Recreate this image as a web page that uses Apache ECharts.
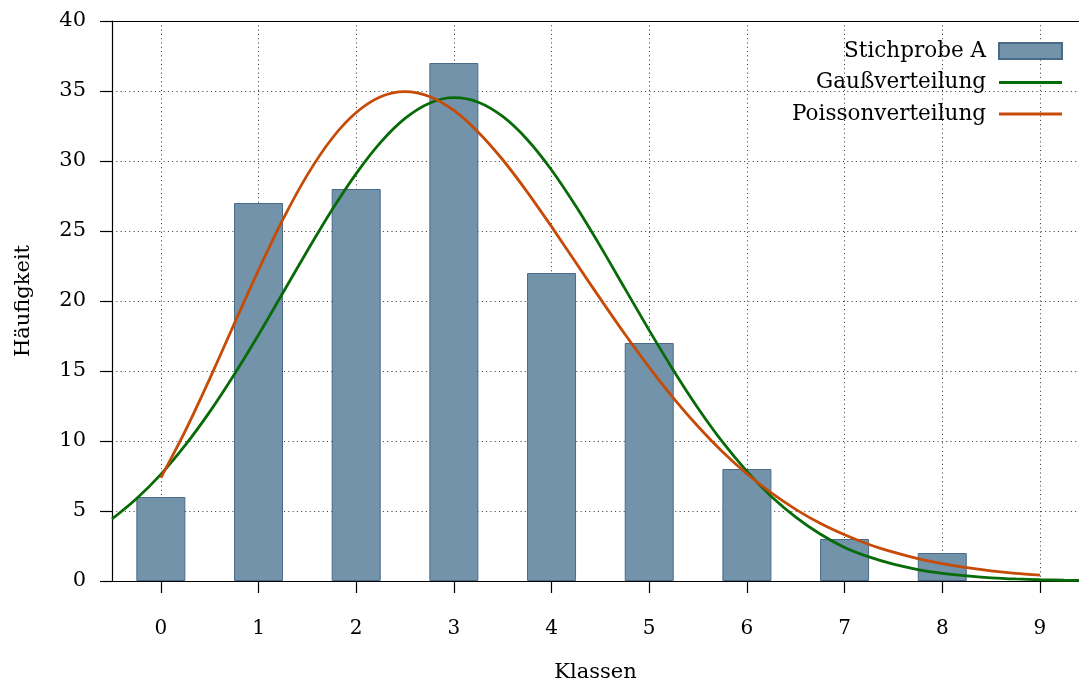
<!DOCTYPE html>
<html>
<head>
<meta charset="utf-8">
<script src="https://cdn.jsdelivr.net/npm/echarts@6/dist/echarts.min.js"></script>
<style>html,body{margin:0;padding:0;background:#fff}#c{width:1079px;height:684px}</style>
</head>
<body>
<div id="c"></div>
<script>
const classes = [0, 1, 2, 3, 4, 5, 6, 7, 8, 9];
const sampleA = [6, 27, 28, 37, 22, 17, 8, 3, 2];
const gaussX = [-0.5, -0.25, 0, 0.25, 0.5, 0.75, 1, 1.25, 1.5, 1.75, 2, 2.25, 2.5, 2.75, 3, 3.25, 3.5, 3.75, 4, 4.25, 4.5, 4.75, 5, 5.25, 5.5, 5.75, 6, 6.25, 6.5, 6.75, 7, 7.25, 7.5, 7.75, 8, 8.25, 8.5, 8.75, 9, 9.25, 9.4];
const gaussY = [4.43, 5.88, 7.62, 9.70, 12.08, 14.73, 17.59, 20.59, 23.59, 26.48, 29.10, 31.33, 33.04, 34.13, 34.52, 34.20, 33.18, 31.54, 29.36, 26.76, 23.90, 20.90, 17.90, 15.02, 12.34, 9.93, 7.83, 6.04, 4.57, 3.36, 2.40, 1.72, 1.20, 0.82, 0.55, 0.36, 0.23, 0.145, 0.09, 0.054, 0.039];
const poissonX = [0, 0.25, 0.5, 0.75, 1, 1.25, 1.5, 1.75, 2, 2.25, 2.5, 2.75, 3, 3.25, 3.5, 3.75, 4, 4.25, 4.5, 4.75, 5, 5.25, 5.5, 5.75, 6, 6.25, 6.5, 6.75, 7, 7.25, 7.5, 7.75, 8, 8.25, 8.5, 8.75, 9];
const poissonY = [7.37, 10.72, 14.44, 18.35, 22.21, 25.83, 29.01, 31.59, 33.46, 34.59, 34.96, 34.61, 33.61, 32.06, 30.09, 27.80, 25.31, 22.73, 20.15, 17.64, 15.26, 13.05, 11.04, 9.24, 7.66, 6.29, 5.12, 4.12, 3.30, 2.61, 2.06, 1.60, 1.24, 0.955, 0.73, 0.552, 0.416];

const FONT = 'DejaVu Serif';
const chart = echarts.init(document.getElementById('c'), null, {renderer: 'canvas'});
const gridLine = {show: true, lineStyle: {color: '#333', width: 1, type: [1, 3.3]}};
const lineIcon = 'path://M0,0H63V3H0Z';

chart.setOption({
  animation: false,
  textStyle: {fontFamily: FONT, color: '#000'},
  grid: {left: 112, right: 0, top: 21, bottom: 103, containLabel: false, outerBoundsMode: 'none'},
  legend: {
    orient: 'vertical', right: 16, top: 40, align: 'right', padding: 0,
    itemWidth: 63, itemHeight: 16, itemGap: 9.5,
    textStyle: {fontFamily: FONT, fontSize: 21.5, color: '#000', padding: [0, 8, 0, 0]},
    data: [
      {name: 'Stichprobe A', icon: 'rect'},
      {name: 'Gaußverteilung', icon: lineIcon},
      {name: 'Poissonverteilung', icon: lineIcon}
    ]
  },
  xAxis: [{
    type: 'value', min: -0.5, max: 9.4,
    name: 'Klassen', nameLocation: 'middle', nameGap: 81,
    nameTextStyle: {fontFamily: FONT, fontSize: 21, color: '#000'},
    axisLine: {show: true, onZero: false, lineStyle: {color: '#000', width: 1.2}},
    axisTick: {show: true, inside: false, length: 12, customValues: classes, lineStyle: {color: '#000', width: 1.2}},
    axisLabel: {customValues: classes, margin: 38, fontFamily: FONT, fontSize: 20, color: '#000'},
    splitLine: gridLine
  }, {
    type: 'value', min: -0.5, max: 9.4, position: 'top',
    axisLine: {show: true, onZero: false, lineStyle: {color: '#000', width: 1.2}},
    axisTick: {show: false}, axisLabel: {show: false}, splitLine: {show: false}
  }],
  yAxis: {
    type: 'value', min: 0, max: 40, interval: 5,
    name: 'Häufigkeit', nameLocation: 'middle', nameGap: 78, nameRotate: 90,
    nameTextStyle: {fontFamily: FONT, fontSize: 21, color: '#000'},
    axisLine: {show: true, onZero: false, lineStyle: {color: '#000', width: 1.2}},
    axisTick: {show: true, inside: false, length: 12, lineStyle: {color: '#000', width: 1.2}},
    axisLabel: {margin: 26, fontFamily: FONT, fontSize: 21, color: '#000'},
    splitLine: gridLine
  },
  series: [{
    name: 'Stichprobe A', type: 'bar', barWidth: 49,
    itemStyle: {color: '#7393ab', borderColor: '#4a6b87', borderWidth: 1},
    data: sampleA.map((v, i) => [classes[i], v]), z: 2
  }, {
    name: 'Gaußverteilung', type: 'line', smooth: 0.3, symbol: 'none',
    itemStyle: {color: '#076b07'}, lineStyle: {color: '#076b07', width: 2.8},
    data: gaussX.map((x, i) => [x, gaussY[i]]), z: 3
  }, {
    name: 'Poissonverteilung', type: 'line', smooth: 0.3, symbol: 'none',
    itemStyle: {color: '#c54b06'}, lineStyle: {color: '#c54b06', width: 2.8},
    data: poissonX.map((x, i) => [x, poissonY[i]]), z: 4
  }]
});
</script>
</body>
</html>
